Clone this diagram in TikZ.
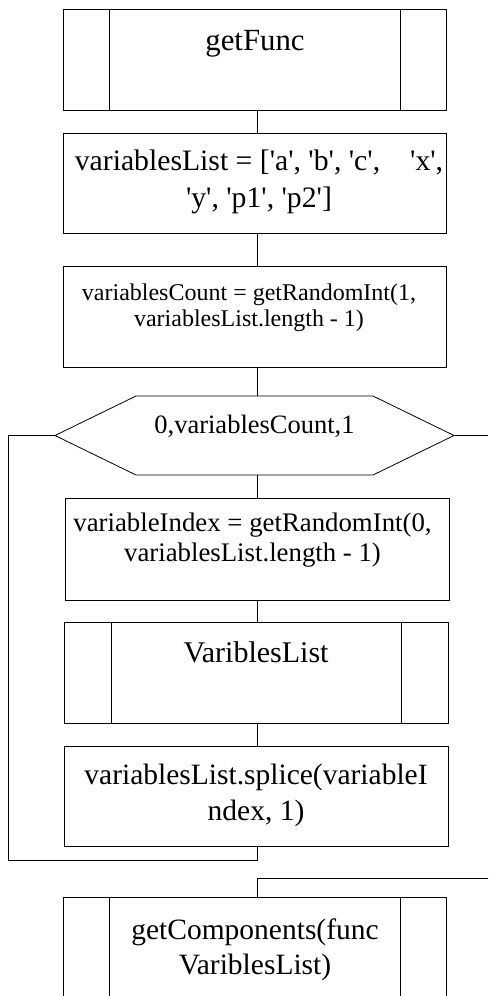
\documentclass[tikz,border=0pt]{standalone}
\usepackage{fontspec}
\setmainfont{Liberation Serif}[Ligatures=TeXOff]
\begin{document}
\begin{tikzpicture}[x=1pt,y=-1pt,line width=0.8pt,
  box/.style={draw,rectangle,inner sep=0pt,outer sep=0pt,minimum width=#1},
  txt/.style={align=center,inner sep=0pt,font=\fontsize{29.5}{35.5}\selectfont},
  wire/.style={draw,line width=0.8pt}]
\clip (0,0) rectangle (488,996);
\coordinate (cx) at (257,0);
% boxes
\node[box=383pt,minimum height=101pt] (b1) at (254.5,59.5) {};
\node[box=383pt,minimum height=100pt] (b2) at (254.5,183) {};
\node[box=383pt,minimum height=101pt] (b3) at (254.5,316.5) {};
\node[box=384pt,minimum height=102pt] (b4) at (257,549) {};
\node[box=384pt,minimum height=101pt] (b5) at (256,672.5) {};
\node[box=384pt,minimum height=100pt] (b6) at (256,796) {};
\node[box=383pt,minimum height=140pt] (b7) at (254.5,967) {};
% subprocess bars
\foreach \n/\d in {b1/46,b5/47,b7/46}{
  \draw ([xshift=\d pt]\n.north west) -- ([xshift=\d pt]\n.south west);
  \draw ([xshift=-\d pt]\n.north east) -- ([xshift=-\d pt]\n.south east);
}
% hexagon
\coordinate (hL) at (55,435.5);
\coordinate (hR) at (454,435.5);
\coordinate (hTL) at (136,396);
\coordinate (hTR) at (373,396);
\coordinate (hBL) at (136,475);
\coordinate (hBR) at (373,475);
\coordinate (hT) at (257,396);
\coordinate (hB) at (257,475);
\draw (hL) -- (hTL) -- (hTR) -- (hR) -- (hBR) -- (hBL) -- cycle;
% texts
\node[txt,font=\fontsize{30.8}{36}\selectfont] (t1) at (255,44) {getFunc};
\node[txt,font=\fontsize{29.7}{37}\selectfont] (t2) at (259,181.5) {variablesList = ['a', 'b', 'c',\hspace{30pt}'x',\\'y', 'p1', 'p2']};
\node[txt,font=\fontsize{24}{26.5}\selectfont] (t3) at (249,308) {variablesCount = getRandomInt(1,\\variablesList.length - 1)};
\node[txt,font=\fontsize{26.5}{30}\selectfont] (th) at (254.5,426) {0,variablesCount,1};
\node[txt,font=\fontsize{26.8}{30}\selectfont] (t4) at (252.5,540) {variableIndex = getRandomInt(0,\\variablesList.length - 1)};
\node[txt,font=\fontsize{30}{36}\selectfont] (t5) at (256,652) {VariblesList};
\node[txt] (t6) at (256,795.5) {variablesList.splice(variableI\\ndex, 1)};
\node[txt] (t7) at (255,949.5) {getComponents(func\\VariblesList)};
% connectors
\coordinate (loopB) at (257,860);
\coordinate (loopL) at (8,860);
\coordinate (loopT) at (8,435.5);
\coordinate (exR) at (488,435.5);
\coordinate (exR2) at (488,878);
\coordinate (exM) at (257,878);
\draw (b1.south -| cx) -- (b2.north -| cx);
\draw (b2.south -| cx) -- (b3.north -| cx);
\draw (b3.south -| cx) -- (hT);
\draw (hB) -- (b4.north -| cx);
\draw (b4.south -| cx) -- (b5.north -| cx);
\draw (b5.south -| cx) -- (b6.north -| cx);
\draw (b6.south -| cx) -- (loopB) -- (loopL) -- (loopT) -- (hL);
\draw (hR) -- (exR);
\draw (exR2) -- (exM) -- (b7.north -| cx);
\end{tikzpicture}
\end{document}
